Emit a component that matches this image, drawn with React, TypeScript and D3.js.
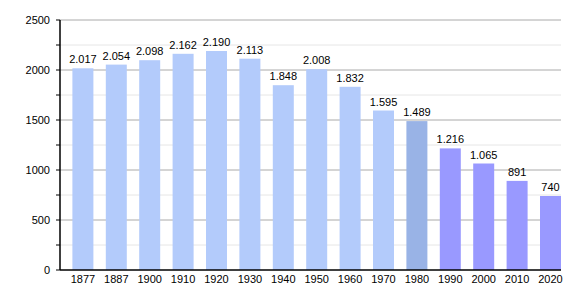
import React from "react";
import * as d3 from "d3";

const years = ["1877","1887","1900","1910","1920","1930","1940","1950","1960","1970","1980","1990","2000","2010","2020"];
const population = [2017,2054,2098,2162,2190,2113,1848,2008,1832,1595,1489,1216,1065,891,740];
const valueLabels = ["2.017","2.054","2.098","2.162","2.190","2.113","1.848","2.008","1.832","1.595","1.489","1.216","1.065","891","740"];
const majorTicks = [0,500,1000,1500,2000,2500];
const minorTicks = [250,750,1250,1750,2250];

const W = 580, H = 300;
const left = 60, right = 561, top = 20, bottom = 270;
const barW = 21;

function barColor(y: string) {
  const n = +y;
  if (n < 1980) return "#b3cbfb";
  if (n === 1980) return "#99b3e6";
  return "#9999ff";
}

export default function App() {
  const x = d3.scaleBand<string>().domain(years).range([left, right]).padding(0);
  const y = d3.scaleLinear().domain([0, 2500]).range([bottom, top]);
  const font = "'Liberation Sans', Arial, sans-serif";
  return (
    <svg width={W} height={H} style={{ position: "absolute", left: 0, top: 0, background: "#fff" }} fontFamily={font}>
      {minorTicks.map((t) => (
        <g key={"mi" + t}>
          <line x1={left} x2={right} y1={y(t)} y2={y(t)} stroke="#e6e6e6" strokeWidth={1} />
          <line x1={left - 4} x2={left} y1={y(t)} y2={y(t)} stroke="#000" strokeWidth={1} />
        </g>
      ))}
      {majorTicks.map((t) => (
        <g key={"ma" + t}>
          {t > 0 && <line x1={left} x2={right} y1={y(t)} y2={y(t)} stroke="#aaaaaa" strokeWidth={1} />}
          <line x1={left - 4} x2={left} y1={y(t)} y2={y(t)} stroke="#000" strokeWidth={1} />
          <text x={left - 10} y={y(t)} dy="0.35em" textAnchor="end" fontSize={11} fill="#000">{t}</text>
        </g>
      ))}
      {years.map((yr, i) => {
        const bx = (x(yr) as number) + x.bandwidth() - barW;
        const cx = bx + barW / 2;
        return (
          <g key={yr}>
            <rect x={bx} y={y(population[i])} width={barW} height={bottom - y(population[i])} fill={barColor(yr)} />
            <text x={cx} y={y(population[i]) - 5} textAnchor="middle" fontSize={11} fill="#000">{valueLabels[i]}</text>
            <text x={cx} y={bottom + 13} textAnchor="middle" fontSize={11} fill="#000">{yr}</text>
          </g>
        );
      })}
      <line x1={left} x2={left} y1={top} y2={bottom} stroke="#000" strokeWidth={1.5} />
      <line x1={left} x2={right} y1={bottom} y2={bottom} stroke="#000" strokeWidth={1.5} />
    </svg>
  );
}
